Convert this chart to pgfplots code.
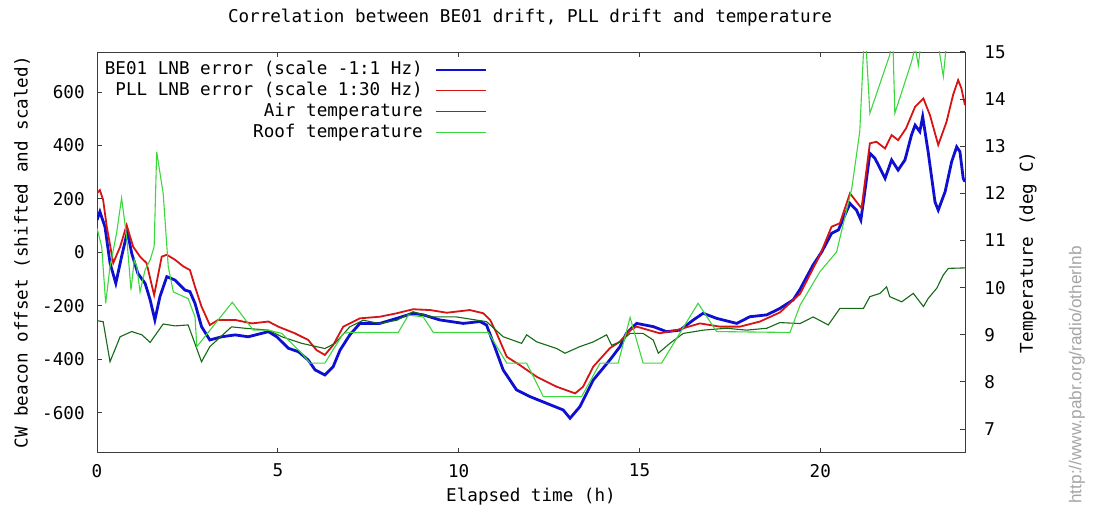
\documentclass[border=0pt]{standalone}
\usepackage{fontspec}
\setmainfont{DejaVu Sans Mono}
\newfontfamily\urlfont{Liberation Sans}
\usepackage{pgfplots}
\pgfplotsset{compat=1.18}
\definecolor{beblue}{RGB}{15,15,210}
\definecolor{pllred}{RGB}{215,20,20}
\definecolor{airgreen}{RGB}{20,105,20}
\definecolor{roofgreen}{RGB}{60,215,60}
\definecolor{framegray}{RGB}{60,60,60}
\definecolor{wmgray}{RGB}{165,165,165}

\pgfplotsset{
  gpaxis/.style={
    scale only axis, width=434bp, height=200.35bp,
    at={(48.5bp,31.15bp)}, anchor=south west,
    xmin=0, xmax=24,
    axis line style={draw=framegray, line width=0.5bp},
    tick style={draw=framegray, line width=0.5bp},
    major tick length=2.5bp,
    tick align=inside,
    /pgf/number format/assume math mode=true,
    tick label style={inner sep=0pt},
  }
}

\begin{document}
\fontsize{8.8bp}{10.5bp}\selectfont
\begin{tikzpicture}
\useasboundingbox (0,0) rectangle (546.5bp,257.5bp);

% left axis: frequency offsets
\begin{axis}[gpaxis,
  ymin=-750, ymax=750,
  xtick={0,5,10,15,20}, xtick pos=both,
  ytick={-600,-400,-200,0,200,400,600}, ytick pos=left,
  xticklabel style={anchor=north, yshift=-5.5bp},
  yticklabel style={anchor=east, xshift=-6bp},
  legend style={at={(0.449,0.978)}, anchor=north east, draw=none, fill=none,
    inner sep=0pt, row sep=2bp, column sep=6bp,
    nodes={inner sep=0pt, text height=6.5bp, text depth=2bp}},
  legend cell align=right,
  legend plot pos=right,
  legend image code/.code={\draw[#1] (0bp,0bp) -- (25bp,0bp);},
]
\addplot[beblue, line width=1.4bp, forget plot] coordinates {
(0.00,121) (0.08,152) (0.22,96) (0.36,-40) (0.52,-116) (0.68,-16) (0.84,77)
(0.96,-4) (1.13,-79) (1.33,-116) (1.47,-178) (1.60,-253) (1.74,-166) (1.93,-91)
(2.16,-104) (2.43,-141) (2.57,-147) (2.71,-191) (2.89,-278) (3.12,-328)
(3.45,-316) (3.82,-309) (4.18,-316) (4.74,-297) (4.97,-316) (5.29,-359)
(5.57,-372) (5.84,-403) (6.03,-440) (6.30,-459) (6.53,-428) (6.72,-366)
(6.99,-309) (7.27,-266) (7.82,-266) (8.29,-247) (8.74,-228) (9.02,-234)
(9.48,-253) (10.13,-266) (10.59,-259) (10.77,-272) (10.96,-340) (11.23,-440)
(11.60,-515) (11.97,-540) (12.43,-565) (12.89,-590) (13.08,-621) (13.35,-578)
(13.72,-478) (14.18,-403) (14.46,-353) (14.64,-303) (14.92,-266) (15.38,-278)
(15.75,-297) (16.12,-291) (16.49,-253) (16.76,-228) (17.13,-247) (17.69,-266)
(18.05,-241) (18.52,-234) (18.88,-210) (19.25,-178) (19.44,-138) (19.80,-47)
(20.04,2) (20.31,71) (20.50,84) (20.82,183) (21.00,158) (21.12,121) (21.23,227)
(21.37,371) (21.51,352) (21.79,277) (21.97,346) (22.15,308) (22.34,346)
(22.52,439) (22.62,476) (22.75,452) (22.83,508) (22.98,377) (23.17,189)
(23.26,158) (23.45,227) (23.63,339) (23.77,395) (23.86,377) (23.95,277) (24.00,264)
};
\addplot[pllred, line width=0.9bp, forget plot] coordinates {
(0.00,221) (0.08,233) (0.17,196) (0.27,96) (0.45,-40) (0.64,21) (0.82,102)
(1.00,21) (1.19,-16) (1.37,-40) (1.58,-160) (1.79,-16) (1.93,-9) (2.16,-28)
(2.39,-53) (2.57,-66) (2.71,-129) (2.89,-203) (3.12,-272) (3.35,-253)
(3.82,-253) (4.28,-266) (4.74,-259) (5.01,-278) (5.47,-303) (5.84,-328)
(6.07,-366) (6.30,-384) (6.53,-347) (6.81,-278) (7.27,-247) (7.82,-241)
(8.29,-228) (8.74,-213) (9.21,-216) (9.67,-226) (10.31,-216) (10.68,-228)
(10.87,-253) (11.05,-303) (11.33,-391) (11.69,-422) (12.16,-466) (12.71,-503)
(13.22,-528) (13.44,-503) (13.72,-428) (14.18,-359) (14.46,-334) (14.74,-291)
(14.92,-278) (15.56,-303) (16.03,-291) (16.67,-266) (17.22,-278) (17.78,-278)
(18.33,-259) (18.88,-225) (19.44,-155) (19.99,-10) (20.31,96) (20.54,109)
(20.82,221) (21.00,189) (21.14,165) (21.37,408) (21.55,414) (21.79,389)
(21.97,439) (22.15,420) (22.37,464) (22.62,545) (22.85,576) (23.03,514)
(23.26,402) (23.49,489) (23.67,589) (23.81,645) (23.90,614) (24.00,551)
};
\addlegendimage{beblue, line width=0.8bp}
\addlegendentry{BE01 LNB error (scale -1:1 Hz)}
\addlegendimage{pllred, line width=0.6bp}
\addlegendentry{PLL LNB error (scale 1:30 Hz)}
\addlegendimage{airgreen, line width=0.6bp}
\addlegendentry{Air temperature}
\addlegendimage{roofgreen, line width=0.6bp}
\addlegendentry{Roof temperature}
\end{axis}

% right axis: temperatures
\begin{axis}[gpaxis,
  ymin=6.5, ymax=15,
  axis x line=none, axis y line*=right,
  ytick={7,8,9,10,11,12,13,14,15}, ytick pos=right,
  yticklabel style={anchor=west, xshift=9.5bp},
]
\addplot[airgreen, line width=0.55bp] coordinates {
(0.00,9.30) (0.17,9.28) (0.36,8.43) (0.64,8.96) (0.96,9.07) (1.24,9.00)
(1.47,8.84) (1.83,9.23) (2.16,9.19) (2.52,9.21) (2.89,8.43) (3.12,8.75)
(3.72,9.17) (4.09,9.14) (4.74,9.10) (5.11,8.96) (5.66,8.82) (6.30,8.71)
(6.58,8.82) (6.99,9.17) (7.36,9.31) (7.82,9.24) (8.29,9.31) (8.74,9.49)
(9.21,9.38) (9.94,9.38) (10.77,9.28) (11.23,8.96) (11.74,8.82) (11.88,9.00)
(12.16,8.85) (12.71,8.71) (12.94,8.61) (13.35,8.75) (13.72,8.85) (14.09,9.00)
(14.23,8.78) (14.46,8.85) (14.74,9.03) (15.10,9.03) (15.38,8.89) (15.52,8.61)
(15.84,8.82) (16.21,9.03) (16.76,9.10) (17.41,9.14) (17.96,9.10) (18.52,9.14)
(18.88,9.26) (19.44,9.24) (19.80,9.38) (20.22,9.21) (20.54,9.56) (21.19,9.56)
(21.37,9.81) (21.65,9.88) (21.83,10.02) (21.92,9.81) (22.25,9.70) (22.57,9.88)
(22.85,9.60) (22.98,9.77) (23.22,9.99) (23.40,10.27) (23.54,10.41) (24.00,10.42)
};
\addplot[roofgreen, line width=0.55bp] coordinates {
(0.00,11.26) (0.13,10.87) (0.24,9.67) (0.36,10.45) (0.54,11.15) (0.68,11.90)
(0.82,11.08) (0.94,9.95) (1.03,10.59) (1.10,10.45) (1.19,9.91) (1.33,10.38)
(1.47,10.59) (1.58,10.87) (1.65,12.88) (1.83,12.00) (1.97,10.45) (2.11,9.91)
(2.52,9.77) (2.71,9.38) (2.76,8.75) (3.74,9.69) (4.32,9.10) (4.74,9.10)
(5.11,9.03) (5.66,8.61) (5.89,8.40) (6.30,8.40) (6.81,9.03) (6.99,9.05)
(8.33,9.05) (8.61,9.42) (9.02,9.38) (9.30,9.05) (10.82,9.05) (11.33,8.40)
(11.88,8.40) (12.34,7.69) (13.40,7.69) (13.91,8.40) (14.41,8.40) (14.74,9.37)
(15.10,8.40) (15.61,8.40) (16.62,9.67) (17.13,9.07) (19.16,9.05) (19.44,9.63)
(19.99,10.34) (20.45,10.76) (20.87,12.11) (21.09,13.31) (21.23,15.60)
(21.37,13.70) (21.92,14.94) (22.00,15.40) (22.06,13.70) (22.52,14.79)
(22.62,15.10) (22.71,14.72) (22.81,15.40) (23.17,15.60) (23.40,14.48)
(23.49,15.20) (23.72,15.80) (24.00,15.80)
};
\end{axis}

\node at (265bp,248.5bp) {Correlation between BE01 drift, PLL drift and temperature};
\node at (265.5bp,9bp) {Elapsed time (h)};
\node[rotate=90] at (11bp,131.3bp) {CW beacon offset (shifted and scaled)};
\node[rotate=90] at (514bp,131.3bp) {Temperature (deg C)};
\node[rotate=90, text=wmgray, font=\urlfont\fontsize{8.6bp}{10bp}\selectfont]
  at (538.5bp,70bp) {http://www.pabr.org/radio/otherlnb};
\end{tikzpicture}
\end{document}
